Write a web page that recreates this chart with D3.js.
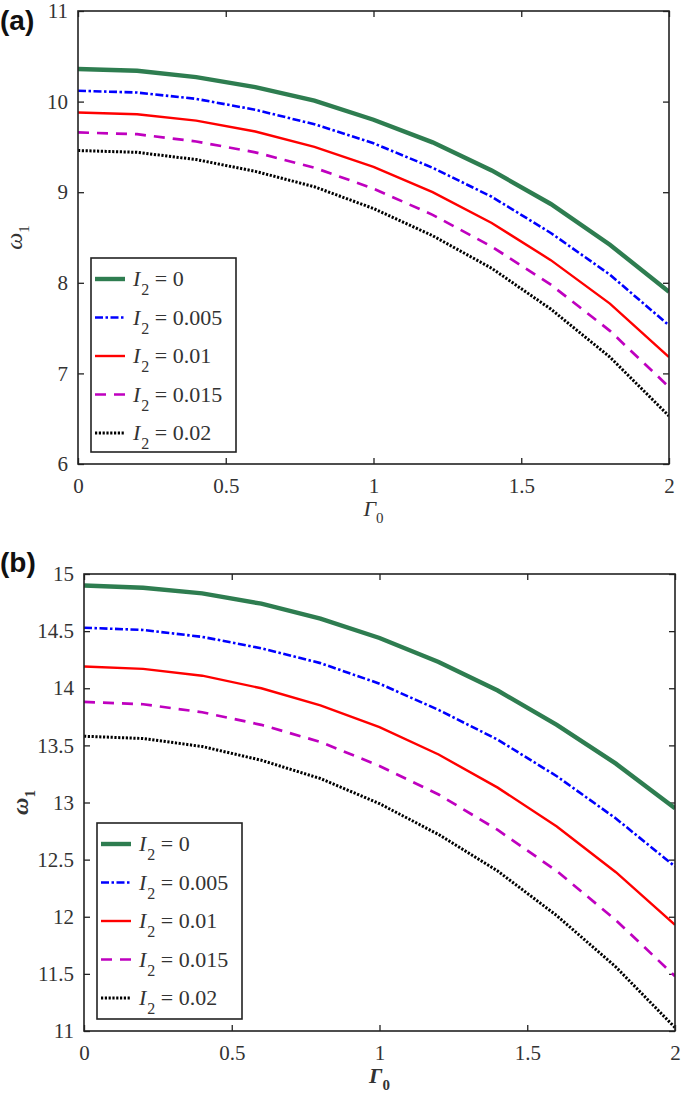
<!DOCTYPE html>
<html><head><meta charset="utf-8">
<script src="https://cdn.jsdelivr.net/npm/d3@7"></script>
<style>body{margin:0;background:#fff}svg{display:block}</style>
</head><body>
<svg id="c" width="685" height="1107"></svg>
<script>
const gamma = [0,0.2,0.4,0.6,0.8,1.0,1.2,1.4,1.6,1.8,2.0];
const seriesLabels = ["0","0.005","0.01","0.015","0.02"];
// panel (a)
const a_I0    = [10.36,10.34,10.27,10.16,10.01,9.80,9.55,9.24,8.87,8.42,7.90];
const a_I005  = [10.12,10.10,10.03,9.91,9.75,9.54,9.27,8.95,8.55,8.09,7.53];
const a_I01   = [9.88,9.86,9.79,9.67,9.50,9.28,9.00,8.66,8.25,7.77,7.18];
const a_I015  = [9.66,9.64,9.56,9.44,9.27,9.04,8.75,8.40,7.98,7.47,6.85];
const a_I02   = [9.46,9.44,9.36,9.23,9.06,8.82,8.52,8.16,7.71,7.18,6.53];
// panel (b)
const b_I0    = [14.90,14.88,14.83,14.74,14.61,14.44,14.23,13.98,13.68,13.34,12.95];
const b_I005  = [14.53,14.51,14.45,14.35,14.22,14.04,13.81,13.55,13.23,12.86,12.44];
const b_I01   = [14.19,14.17,14.11,14.00,13.85,13.66,13.42,13.13,12.79,12.39,11.93];
const b_I015  = [13.88,13.86,13.79,13.68,13.53,13.32,13.07,12.76,12.40,11.97,11.48];
const b_I02   = [13.58,13.56,13.49,13.37,13.21,12.99,12.72,12.40,12.01,11.56,11.03];
const xTicks = [0,0.5,1,1.5,2];
const aTicks = [6,7,8,9,10,11];
const bTicks = [11,11.5,12,12.5,13,13.5,14,14.5,15];

const styles = [
  {color:"#2e7d50", width:4.4, dash:null},
  {color:"#0000ff", width:2.6, dash:"8,2.5,2.5,2.5"},
  {color:"#ff0000", width:2.4, dash:null},
  {color:"#bf00bf", width:2.7, dash:"11,8"},
  {color:"#000000", width:3.0, dash:"2.2,1.6"}
];

const svg = d3.select("#c");
const serif = "'Liberation Serif','Times New Roman',serif";

function panel(cfg){
  const {L,R,T,B,ydom,yticks,series,tag,bold,leg} = cfg;
  const x = d3.scaleLinear().domain([0,2]).range([L,R]);
  const y = d3.scaleLinear().domain(ydom).range([B,T]);
  const g = svg.append("g");
  const fmt = d => String(d);
  const tickAttrs = sel => {
    sel.attr("font-family",serif);
    sel.select(".domain").remove();
    sel.selectAll("line").attr("stroke","#222").attr("stroke-width",1.3);
    sel.selectAll("text").attr("font-family",serif).attr("font-size",21).attr("fill","#333");
  };
  g.append("g").attr("transform",`translate(0,${B})`)
    .call(d3.axisBottom(x).tickValues(xTicks).tickFormat(fmt).tickSizeInner(-6).tickSizeOuter(0).tickPadding(14))
    .call(tickAttrs);
  g.append("g").attr("transform",`translate(0,${T})`)
    .call(d3.axisTop(x).tickValues(xTicks).tickFormat("").tickSizeInner(-6).tickSizeOuter(0))
    .call(tickAttrs);
  g.append("g").attr("transform",`translate(${L},0)`)
    .call(d3.axisLeft(y).tickValues(yticks).tickFormat(fmt).tickSizeInner(-6).tickSizeOuter(0).tickPadding(10))
    .call(tickAttrs);
  g.append("g").attr("transform",`translate(${R},0)`)
    .call(d3.axisRight(y).tickValues(yticks).tickFormat("").tickSizeInner(-6).tickSizeOuter(0))
    .call(tickAttrs);
  const line = d3.line().x((d,i)=>x(gamma[i])).y(d=>y(d));
  const clip = "clip"+tag;
  g.append("clipPath").attr("id",clip).append("rect").attr("x",L).attr("y",T).attr("width",R-L).attr("height",B-T);
  series.forEach((s,i)=>{
    g.append("path").datum(s).attr("d",line).attr("fill","none")
      .attr("clip-path",`url(#${clip})`)
      .attr("stroke",styles[i].color).attr("stroke-width",styles[i].width)
      .attr("stroke-dasharray",styles[i].dash);
  });
  g.append("rect").attr("x",L).attr("y",T).attr("width",R-L).attr("height",B-T)
    .attr("fill","none").attr("stroke","#222").attr("stroke-width",1.6);
  g.append("rect").attr("x",leg.x).attr("y",leg.y).attr("width",leg.w).attr("height",leg.h)
    .attr("fill","#fff").attr("stroke","#222").attr("stroke-width",1.6);
  seriesLabels.forEach((lab,i)=>{
    const yy = leg.y + 21 + i*leg.dy;
    g.append("line").attr("x1",leg.x+4).attr("x2",leg.x+34).attr("y1",yy).attr("y2",yy)
      .attr("stroke",styles[i].color).attr("stroke-width",styles[i].width)
      .attr("stroke-dasharray",styles[i].dash);
    const t = g.append("text").attr("x",leg.x+42).attr("y",yy+7)
      .attr("font-family",serif).attr("font-size",22).attr("fill","#333");
    t.append("tspan").attr("font-style","italic").text("I");
    t.append("tspan").attr("font-size",16).attr("dy",9).attr("dx",1).text("2");
    t.append("tspan").attr("dy",-9).text(" = "+lab);
  });
  const xt = g.append("text").attr("x",(L+R)/2).attr("y",B+52).attr("text-anchor","middle")
    .attr("font-family",serif).attr("font-size",22).attr("fill","#333")
    .attr("font-weight",bold?"bold":"normal");
  xt.append("tspan").attr("font-style","italic").text("Γ");
  xt.append("tspan").attr("font-size",15).attr("dy",7).text("0");
  const yt = g.append("text").attr("transform",`translate(${L-56},${(T+B)/2}) rotate(-90)`)
    .attr("text-anchor","middle").attr("font-family",serif).attr("font-size",24).attr("fill","#333")
    .attr("font-weight",bold?"bold":"normal");
  yt.append("tspan").attr("font-style","italic").text("ω");
  yt.append("tspan").attr("font-size",15).attr("dy",7).text("1");
  svg.append("text").attr("x",0).attr("y",cfg.tagY).attr("font-family","'Liberation Sans',Arial,sans-serif")
    .attr("font-weight","bold").attr("font-size",28).attr("fill","#111").text("("+tag+")");
}

panel({L:78,R:669,T:11,B:464,ydom:[6,11],yticks:aTicks,series:[a_I0,a_I005,a_I01,a_I015,a_I02],
  tag:"a",bold:false,tagY:30,leg:{x:91,y:258,w:145,h:194,dy:38.5}});
panel({L:84,R:675,T:574,B:1031,ydom:[11,15],yticks:bTicks,series:[b_I0,b_I005,b_I01,b_I015,b_I02],
  tag:"b",bold:true,tagY:572,leg:{x:97,y:823,w:145,h:196,dy:38.5}});
</script>
</body></html>
